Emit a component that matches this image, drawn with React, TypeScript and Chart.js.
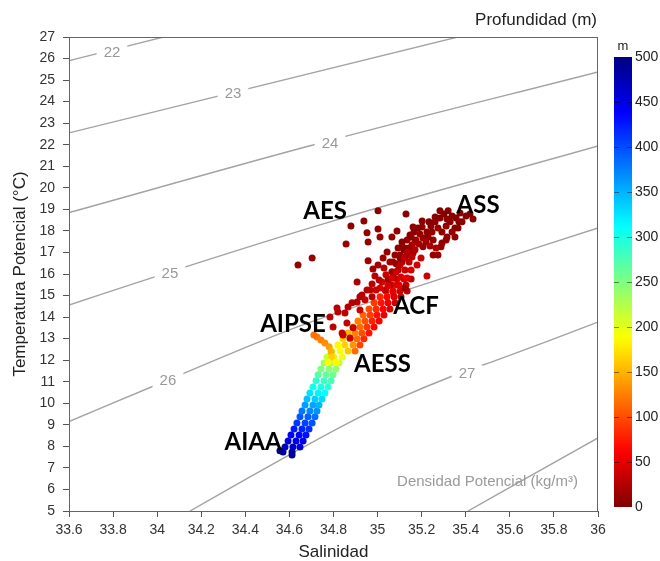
import React, { useEffect, useRef } from "react";
import { Chart, registerables } from "chart.js";
Chart.register(...registerables);

// ---- Scatter data: salinity (PSU), potential temperature (°C), depth (m) ----
const salinity = [
  // deep band (AIAA)
  34.557, 34.571, 34.612, 34.612, 34.580, 34.616, 34.648, 34.594, 34.630, 34.662,
  34.607, 34.644, 34.675, 34.621, 34.657, 34.689, 34.634, 34.671, 34.703, 34.648,
  34.684, 34.716, 34.657, 34.693, 34.725, 34.671, 34.707, 34.734, 34.680, 34.716,
  34.748, 34.693, 34.730, 34.761, 34.707, 34.743, 34.775, 34.721, 34.757, 34.789,
  34.730, 34.766, 34.798, 34.743, 34.780, 34.811, 34.757, 34.789, 34.825, 34.771,
  34.802, 34.839,
  // middle band (AESS)
  34.793, 34.830, 34.866, 34.898, 34.820, 34.852, 34.889, 34.920, 34.843, 34.875,
  34.907, 34.938, 34.866, 34.898, 34.929, 34.961, 34.889, 34.920, 34.952, 34.984,
  34.911, 34.943, 34.975, 35.007, 34.934, 34.966, 34.997, 35.029, 34.961, 34.993,
  35.025, 35.056, 34.984, 35.016, 35.047, 35.079, 35.011, 35.043, 35.075, 35.106,
  35.038, 35.070, 35.102, 35.134, 35.065, 35.097, 35.129, 35.088, 35.120, 35.152,
  // AIPSE spur
  34.711, 34.725, 34.743, 34.761, 34.780, 34.789, 34.793, 34.775, 34.811,
  // scattered surface points
  35.002, 34.879, 34.938, 34.952, 35.002, 35.011, 35.065, 35.088, 34.857, 34.957,
  34.639, 34.703, 34.957, 34.979, 34.907, 35.129, 35.283, 35.320, 35.374, 35.433,
  35.369, 35.315, 35.261, 35.233, 35.202, 35.161, 35.202, 35.152, 35.229, 35.292,
  35.351, 35.351, 35.315, 35.252, 35.292, 35.206, 35.170, 35.124, 35.161, 35.252,
  35.274, 35.224, 35.124, 35.111, 35.102, 35.070, 34.952, 34.816, 34.798, 34.843,
  34.884, 34.920, 34.929, 34.975, 34.907, 34.866, 34.852, 34.820, 34.861, 34.839,
  34.889, 34.875, 34.784,
  // dense surface cluster (ACF / ASS)
  35.034, 35.056, 35.047, 35.075, 35.065, 35.093, 35.084, 35.111, 35.102, 35.129,
  35.120, 35.143, 35.038, 35.020, 35.011, 35.029, 35.056, 35.079, 35.093, 35.111,
  35.134, 35.147, 35.165, 35.183, 35.192, 35.174, 35.156, 35.138, 35.120, 35.102,
  35.084, 35.065, 35.047, 35.143, 35.124, 35.106, 35.088, 35.070, 35.156, 35.170,
  35.188, 35.206, 35.224, 35.242, 35.261, 35.283, 35.301, 35.338, 35.356, 35.329,
  35.311, 35.274, 35.247, 35.220, 35.238, 35.265, 35.288, 35.311, 35.338, 35.365,
  35.383, 35.401, 35.419, 35.179, 35.197, 35.152, 35.134,
  35.025, 35.043, 35.002, 34.988, 35.007, 34.975, 34.993, 34.966, 34.943, 34.920,
];

const temperature = [
  // deep band (AIAA)
  7.80, 7.74, 7.60, 7.74, 7.97, 7.97, 7.97, 8.25, 8.25, 8.25,
  8.53, 8.53, 8.53, 8.81, 8.81, 8.81, 9.09, 9.09, 9.09, 9.37,
  9.37, 9.37, 9.64, 9.64, 9.64, 9.92, 9.92, 9.92, 10.20, 10.20,
  10.20, 10.48, 10.48, 10.48, 10.76, 10.76, 10.76, 11.04, 11.04, 11.04,
  11.32, 11.32, 11.32, 11.59, 11.59, 11.59, 11.87, 11.87, 11.87, 12.15,
  12.15, 12.15,
  // middle band (AESS)
  12.43, 12.43, 12.43, 12.43, 12.71, 12.71, 12.71, 12.71, 12.99, 12.99,
  12.99, 12.99, 13.26, 13.26, 13.26, 13.26, 13.54, 13.54, 13.54, 13.54,
  13.82, 13.82, 13.82, 13.82, 14.10, 14.10, 14.10, 14.10, 14.38, 14.38,
  14.38, 14.38, 14.66, 14.66, 14.66, 14.66, 14.94, 14.94, 14.94, 14.94,
  15.21, 15.21, 15.21, 15.21, 15.49, 15.49, 15.49, 15.77, 15.77, 15.77,
  // AIPSE spur
  13.17, 13.08, 12.94, 12.80, 12.62, 12.38, 12.15, 11.92, 11.92,
  // scattered surface points
  18.93, 18.23, 18.46, 17.91, 18.09, 17.72, 17.72, 18.00, 17.39, 17.49,
  16.42, 16.74, 16.61, 16.23, 15.63, 18.79, 18.93, 18.93, 18.83, 18.55,
  18.42, 18.55, 18.65, 18.42, 18.46, 18.18, 18.18, 17.72, 17.72, 17.95,
  18.14, 17.72, 17.72, 17.58, 17.44, 17.26, 17.49, 17.21, 16.98, 16.88,
  16.88, 15.91, 15.35, 17.26, 16.88, 16.56, 15.26, 14.42, 13.54, 13.17,
  14.66, 14.94, 15.03, 14.94, 14.70, 14.47, 14.19, 14.24, 13.73, 13.26,
  13.50, 13.03, 14.01,
  // dense surface cluster (ACF / ASS)
  15.26, 15.49, 15.72, 15.82, 16.10, 16.19, 16.47, 16.56, 16.74, 16.84,
  17.12, 17.21, 15.96, 15.63, 15.35, 16.28, 16.56, 16.88, 17.21, 17.49,
  17.58, 17.81, 17.95, 18.14, 17.86, 17.58, 17.35, 17.02, 16.74, 16.42,
  16.10, 15.82, 15.45, 16.56, 16.19, 15.86, 15.49, 15.17, 16.79, 17.12,
  17.39, 17.67, 17.95, 18.23, 18.42, 18.60, 18.79, 18.69, 18.60, 18.42,
  18.23, 18.14, 17.95, 17.49, 17.30, 17.21, 17.26, 17.58, 17.95, 18.14,
  18.42, 18.69, 18.79, 16.42, 16.74, 16.19, 15.82,
  16.74, 17.02, 16.42, 15.91, 15.72, 15.54, 15.26, 15.26, 14.80, 14.33,
];

const depth = [
  // deep band (AIAA)
  498, 492, 495, 488, 470, 465, 460, 455, 450, 445,
  440, 435, 430, 425, 420, 415, 410, 405, 398, 395,
  390, 383, 378, 372, 366, 360, 355, 348, 342, 336,
  330, 325, 318, 312, 305, 298, 292, 288, 282, 276,
  270, 264, 258, 252, 246, 240, 235, 228, 220, 215,
  208, 198,
  // middle band (AESS)
  205, 190, 160, 115, 185, 165, 135, 95, 165, 145,
  115, 82, 150, 128, 100, 72, 138, 115, 88, 64,
  125, 102, 78, 58, 112, 92, 70, 52, 100, 82,
  62, 46, 90, 72, 55, 40, 80, 62, 48, 35,
  68, 52, 40, 30, 58, 45, 34, 48, 36, 26,
  // AIPSE spur
  118, 120, 125, 132, 140, 150, 165, 190, 185,
  // scattered surface points
  5, 8, 6, 10, 8, 12, 10, 8, 14, 12,
  10, 12, 16, 18, 22, 4, 3, 3, 4, 5,
  5, 4, 4, 5, 6, 8, 6, 10, 8, 6,
  6, 7, 8, 9, 10, 12, 12, 14, 14, 12,
  12, 40, 15, 12, 14, 16, 25, 28, 30, 32,
  25, 24, 24, 26, 26, 28, 30, 28, 32, 34,
  35, 36, 28,
  // dense surface cluster (ACF / ASS)
  30, 25, 20, 28, 15, 22, 10, 18, 8, 15,
  5, 12, 35, 40, 45, 25, 18, 12, 8, 5,
  10, 5, 8, 5, 12, 15, 20, 25, 28, 30,
  35, 40, 42, 32, 38, 45, 48, 50, 30, 25,
  18, 12, 8, 5, 6, 4, 3, 3, 5, 8,
  10, 12, 10, 15, 20, 22, 12, 8, 10, 4,
  3, 2, 2, 40, 35, 45, 50,
  15, 12, 20, 25, 28, 30, 35, 30, 35, 38,
];

// ---- Axes ----
const X_TICKS = [33.6, 33.8, 34, 34.2, 34.4, 34.6, 34.8, 35, 35.2, 35.4, 35.6, 35.8, 36];
const Y_TICKS = [5, 6, 7, 8, 9, 10, 11, 12, 13, 14, 15, 16, 17, 18, 19, 20, 21, 22, 23, 24, 25, 26, 27];
const DEPTH_TICKS = [0, 50, 100, 150, 200, 250, 300, 350, 400, 450, 500];

// ---- Isopycnals (potential density anomaly, kg/m3) ----
const ISO_LEVELS = ["22", "23", "24", "25", "26", "27", "28"];
const ISO_SAL = [
  [33.6, 34.1],
  [33.6, 35.4],
  [33.6, 34.74, 36],
  [33.6, 34.058, 34.784, 36],
  [33.6, 34.049, 34.648, 35.147, 36],
  [34.149, 34.421, 34.648, 34.875, 35.102, 35.329, 35.556, 35.782, 36],
  [35.41, 36],
];
const ISO_TEMP = [
  [25.9, 27.18],
  [22.55, 27.09],
  [18.85, 22.08, 25.38],
  [14.56, 16.1, 18.42, 21.94],
  [9.15, 11.08, 13.59, 15.31, 18.14],
  [5, 6.58, 7.88, 9.13, 10.25, 11.22, 12.06, 12.92, 13.77],
  [5, 8.39],
];
const ISO_LABELS = ["22", "23", "24", "25", "26", "27"];
const ISO_LABEL_SAL = [33.795, 34.344, 34.784, 34.058, 34.049, 35.406];
const ISO_LABEL_TEMP = [26.3, 24.4, 22.08, 16.05, 11.08, 11.41];

// ---- Water mass labels ----
const WATER_MASSES = ["AES", "ASS", "ACF", "AIPSE", "AESS", "AIAA"];
const WATER_MASS_SAL = [34.762, 35.456, 35.174, 34.616, 35.022, 34.435];
const WATER_MASS_TEMP = [18.93, 19.23, 14.54, 13.71, 11.85, 8.21];

const DEPTH_MAX = 500;

function jet(d: number): string {
  const t = 1 - d / DEPTH_MAX;
  const c = (v: number) => Math.round(255 * Math.max(0, Math.min(1, 1.5 - Math.abs(v))));
  return `rgb(${c(4 * t - 3)},${c(4 * t - 2)},${c(4 * t - 1)})`;
}

const AXIS_FONT = "'Liberation Sans', Arial, sans-serif";

const overlayPlugin = {
  id: "tsOverlay",
  afterDatasetsDraw(chart: any) {
    const ctx = chart.ctx;
    const xs = chart.scales.x;
    const ys = chart.scales.y;
    ctx.save();
    ctx.font = `15px ${AXIS_FONT}`;
    ctx.textAlign = "center";
    ctx.textBaseline = "middle";
    ISO_LABELS.forEach((lab, i) => {
      const px = xs.getPixelForValue(ISO_LABEL_SAL[i]);
      const py = ys.getPixelForValue(ISO_LABEL_TEMP[i]);
      const w = ctx.measureText(lab).width;
      ctx.fillStyle = "#ffffff";
      ctx.fillRect(px - w / 2 - 7, py - 8, w + 14, 16);
      ctx.fillStyle = "#999999";
      ctx.fillText(lab, px, py + 1);
    });
    ctx.restore();
  },
  afterDraw(chart: any) {
    const ctx = chart.ctx;
    const a = chart.chartArea;
    const xs = chart.scales.x;
    const ys = chart.scales.y;
    ctx.save();
    // plot box
    ctx.strokeStyle = "#666";
    ctx.lineWidth = 1;
    ctx.strokeRect(a.left + 0.5, a.top + 0.5, a.right - a.left - 1, a.bottom - a.top);

    // density caption
    ctx.fillStyle = "#9a9a9a";
    ctx.font = `15px ${AXIS_FONT}`;
    ctx.textAlign = "right";
    ctx.textBaseline = "alphabetic";
    ctx.fillText("Densidad Potencial (kg/m³)", a.right - 20, 486);

    // water mass labels
    ctx.fillStyle = "#000";
    ctx.font = "bold 24px Lato, 'Open Sans', sans-serif";
    ctx.textAlign = "center";
    WATER_MASSES.forEach((lab, i) => {
      const px = xs.getPixelForValue(WATER_MASS_SAL[i]);
      const py = ys.getPixelForValue(WATER_MASS_TEMP[i]);
      ctx.fillText(lab, px, py + 8.5);
    });

    // title
    ctx.fillStyle = "#222";
    ctx.font = `17px ${AXIS_FONT}`;
    ctx.textAlign = "right";
    ctx.textBaseline = "middle";
    ctx.fillText("Profundidad (m)", a.right - 1, 20);

    // colour bar
    const cbL = 614, cbR = 632, cbT = 57, cbB = 507;
    const grad = ctx.createLinearGradient(0, cbB, 0, cbT);
    for (let k = 0; k <= 50; k++) {
      grad.addColorStop(k / 50, jet((k / 50) * DEPTH_MAX));
    }
    ctx.fillStyle = grad;
    ctx.fillRect(cbL, cbT, cbR - cbL, cbB - cbT);
    ctx.strokeStyle = "rgba(0,0,0,0.45)";
    ctx.lineWidth = 1;
    ctx.fillStyle = "#222";
    ctx.font = `14px ${AXIS_FONT}`;
    ctx.textAlign = "left";
    ctx.textBaseline = "middle";
    DEPTH_TICKS.forEach((d) => {
      const y = cbB - (d / DEPTH_MAX) * (cbB - cbT);
      if (d > 0 && d < DEPTH_MAX) {
        ctx.beginPath();
        ctx.moveTo(cbL, Math.round(y) + 0.5);
        ctx.lineTo(cbL + 5, Math.round(y) + 0.5);
        ctx.moveTo(cbR - 5, Math.round(y) + 0.5);
        ctx.lineTo(cbR, Math.round(y) + 0.5);
        ctx.stroke();
      }
      ctx.fillText(String(d), 635, y);
    });
    ctx.textAlign = "center";
    ctx.font = `13px ${AXIS_FONT}`;
    ctx.fillText("m", 623, 46);
    ctx.restore();
  },
};

export default function App() {
  const ref = useRef<HTMLCanvasElement>(null);
  useEffect(() => {
    document.body.style.margin = "0";
    const points = salinity.map((s, i) => ({ x: s, y: temperature[i] }));
    const isoSets = ISO_LEVELS.map((lev, k) => ({
      type: "line" as const,
      label: lev,
      data: ISO_SAL[k].map((s, i) => ({ x: s, y: ISO_TEMP[k][i] })),
      borderColor: "#a3a3a3",
      borderWidth: 1.4,
      pointRadius: 0,
      showLine: true,
      cubicInterpolationMode: "monotone" as const,
      fill: false,
      order: 2,
    }));
    const chart = new Chart(ref.current!, {
      type: "scatter",
      data: {
        datasets: [
          {
            label: "Profundidad",
            data: points,
            backgroundColor: depth.map((d) => jet(d)),
            borderWidth: 0,
            pointRadius: 3.5,
            order: 0,
          } as any,
          ...isoSets,
        ],
      },
      plugins: [overlayPlugin],
      options: {
        responsive: false,
        animation: false,
        devicePixelRatio: 1,
        layout: { padding: { top: 37, right: 62, left: 0, bottom: 0 } },
        plugins: { legend: { display: false }, tooltip: { enabled: false } },
        scales: {
          x: {
            type: "linear",
            min: 33.6,
            max: 36,
            afterBuildTicks: (s: any) => {
              s.ticks = X_TICKS.map((v) => ({ value: v }));
            },
            afterFit: (s: any) => {
              s.height = 50;
            },
            ticks: {
              padding: 5,
              color: "#333",
              font: { family: AXIS_FONT, size: 14 },
              maxRotation: 0,
              callback: (v: any) => String(Number(Number(v).toFixed(1))),
            },
            grid: { display: true, drawOnChartArea: false, drawTicks: true, tickLength: 6, color: "#555" },
            border: { display: true, color: "#555", width: 1 },
            title: {
              display: true,
              text: "Salinidad",
              color: "#222",
              font: { family: AXIS_FONT, size: 17, lineHeight: 1 },
              padding: { top: 0, bottom: 0 },
            },
          },
          y: {
            type: "linear",
            min: 5,
            max: 27,
            afterBuildTicks: (s: any) => {
              s.ticks = Y_TICKS.map((v) => ({ value: v }));
            },
            afterFit: (s: any) => {
              s.width = 69;
            },
            ticks: {
              padding: 8,
              color: "#333",
              font: { family: AXIS_FONT, size: 14 },
              callback: (v: any) => String(v),
            },
            grid: { display: true, drawOnChartArea: false, drawTicks: true, tickLength: 6, color: "#555" },
            border: { display: true, color: "#555", width: 1 },
            title: {
              display: true,
              text: "Temperatura Potencial (°C)",
              color: "#222",
              font: { family: AXIS_FONT, size: 17, lineHeight: 1 },
              padding: { top: 11.5, bottom: 0 },
            },
          },
        },
      },
    });
    return () => chart.destroy();
  }, []);
  return (
    <div style={{ width: 660, height: 561 }}>
      <canvas ref={ref} width={660} height={561} style={{ display: "block" }} />
    </div>
  );
}
